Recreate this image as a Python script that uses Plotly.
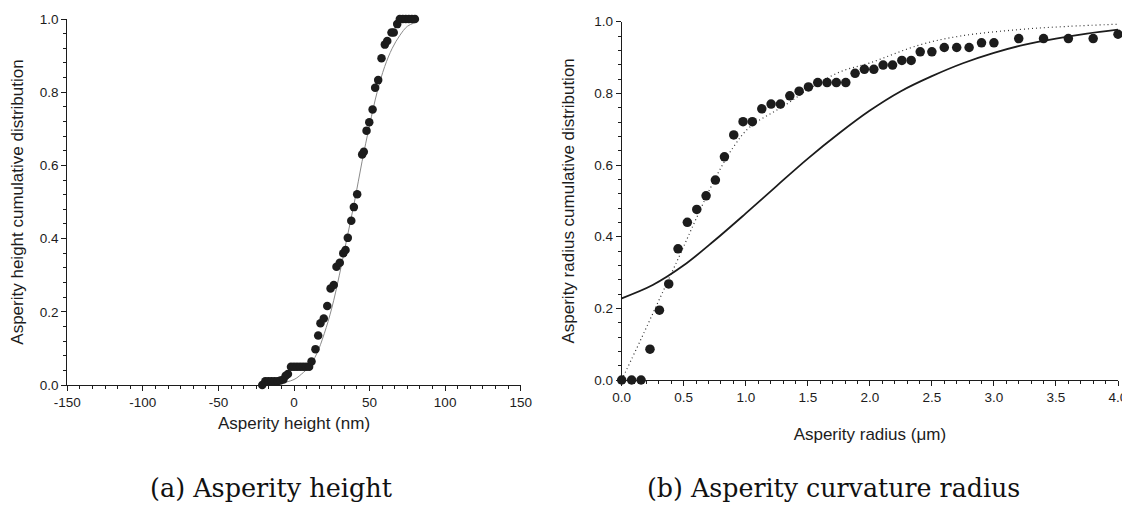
import plotly.graph_objects as go

# ---------------- data: (a) asperity height ----------------
height_x = [-21, -19, -17, -15, -13, -11, -9, -7, -5.5, -4, -2, 0, 2, 4, 6, 8, 10,
            11.6, 14.2, 16, 17.5, 19.7, 22, 24.2, 26.3, 28.1, 30.3, 32.6, 34.1, 35.6,
            37.9, 39.6, 41.8, 45.1, 46.2, 48, 49.8, 52, 53.7, 55.7, 57.9, 60.1, 61.7,
            64.5, 66, 68.3, 70, 72, 74, 76, 78, 80]
height_y = [0.0, 0.01, 0.01, 0.01, 0.01, 0.01, 0.012, 0.015, 0.025, 0.03, 0.05, 0.05,
            0.05, 0.05, 0.05, 0.05, 0.05, 0.064, 0.098, 0.135, 0.169, 0.182, 0.216,
            0.264, 0.273, 0.323, 0.334, 0.36, 0.369, 0.402, 0.449, 0.486, 0.521, 0.63,
            0.637, 0.695, 0.718, 0.753, 0.812, 0.833, 0.893, 0.93, 0.94, 0.963, 0.963,
            0.986, 1.0, 1.0, 1.0, 1.0, 1.0, 1.0]
height_fit_x = [-20, -10, 0, 5, 10, 15, 20, 25, 30, 35, 40, 45, 50, 55, 60, 65, 70, 75, 80]
height_fit_y = [0.0, 0.004, 0.015, 0.03, 0.05, 0.085, 0.14, 0.21, 0.30, 0.40, 0.50,
                0.61, 0.71, 0.80, 0.87, 0.92, 0.955, 0.98, 0.99]

# ---------------- data: (b) asperity curvature radius ----------------
radius_x = [0, 0.08, 0.156, 0.228, 0.304, 0.379, 0.454, 0.529, 0.605, 0.68, 0.755,
            0.828, 0.903, 0.978, 1.053, 1.129, 1.204, 1.279, 1.355, 1.43, 1.505, 1.58,
            1.655, 1.73, 1.806, 1.881, 1.956, 2.032, 2.107, 2.183, 2.258, 2.333, 2.406,
            2.5, 2.6, 2.7, 2.8, 2.9, 3.0, 3.2, 3.4, 3.6, 3.8, 4.0]
radius_y = [0, 0, 0, 0.086, 0.195, 0.268, 0.366, 0.44, 0.476, 0.514, 0.558, 0.623,
            0.684, 0.721, 0.721, 0.757, 0.77, 0.77, 0.793, 0.806, 0.818, 0.83, 0.83,
            0.83, 0.83, 0.856, 0.867, 0.867, 0.879, 0.879, 0.892, 0.892, 0.916, 0.916,
            0.928, 0.928, 0.928, 0.941, 0.941, 0.953, 0.953, 0.953, 0.953, 0.965]
radius_solid_x = [0, 0.25, 0.5, 0.75, 1.0, 1.25, 1.5, 1.75, 2.0, 2.25, 2.5, 2.75,
                  3.0, 3.25, 3.5, 3.75, 4.0]
radius_solid_y = [0.228, 0.265, 0.32, 0.39, 0.465, 0.542, 0.618, 0.688, 0.752, 0.806,
                  0.848, 0.884, 0.913, 0.936, 0.953, 0.967, 0.978]
radius_dot_x = [0, 0.15, 0.31, 0.47, 0.6, 0.75, 0.9, 1.03, 1.33, 1.5, 1.76, 2.0, 2.4,
                2.73, 3.2, 3.6, 4.0]
radius_dot_y = [0, 0.11, 0.23, 0.35, 0.45, 0.56, 0.65, 0.705, 0.77, 0.81, 0.86, 0.885,
                0.935, 0.96, 0.978, 0.987, 0.993]

height_ticks = [-150, -100, -50, 0, 50, 100, 150]
radius_ticks = [0.0, 0.5, 1.0, 1.5, 2.0, 2.5, 3.0, 3.5, 4.0]
cdf_ticks = [0.0, 0.2, 0.4, 0.6, 0.8, 1.0]

FONT = "Liberation Sans"
INK = "#1c1c1c"

fig = go.Figure()
fig.add_trace(go.Scatter(x=height_fit_x, y=height_fit_y, mode="lines",
                         line=dict(color="#8a8a8a", width=1, shape="spline"),
                         xaxis="x", yaxis="y", showlegend=False, cliponaxis=False))
fig.add_trace(go.Scatter(x=height_x, y=height_y, mode="markers",
                         marker=dict(color=INK, size=8.5), xaxis="x", yaxis="y",
                         showlegend=False, cliponaxis=False))
fig.add_trace(go.Scatter(x=radius_dot_x, y=radius_dot_y, mode="lines",
                         line=dict(color="#333333", width=1.2, dash="1px,3px",
                                   shape="spline"),
                         xaxis="x2", yaxis="y2", showlegend=False, cliponaxis=False))
fig.add_trace(go.Scatter(x=radius_solid_x, y=radius_solid_y, mode="lines",
                         line=dict(color=INK, width=1.8, shape="spline"),
                         xaxis="x2", yaxis="y2", showlegend=False, cliponaxis=False))
fig.add_trace(go.Scatter(x=radius_x, y=radius_y, mode="markers",
                         marker=dict(color=INK, size=9.5), xaxis="x2", yaxis="y2",
                         showlegend=False, cliponaxis=False))

W, H = 1130, 510
OFF = 8  # page body margin in the browser
def dx(px):
    return (px - OFF) / W
def dy(py):
    return (H - (py - OFF)) / H

axis_common = dict(showline=True, linecolor=INK, linewidth=1, ticks="outside",
                   ticklen=5, tickwidth=1, tickcolor=INK, showgrid=False,
                   zeroline=False, automargin=False,
                   tickfont=dict(family=FONT, size=13.5, color=INK),
                   title_font=dict(family=FONT, size=17, color=INK))

fig.update_layout(
    width=W, height=H, margin=dict(l=0, r=0, t=0, b=0, autoexpand=False),
    paper_bgcolor="white", plot_bgcolor="white",
    xaxis=dict(domain=[dx(67.3), dx(520.7)], range=[-150, 150], anchor="y",
               tickvals=height_ticks, ticktext=[str(v) for v in height_ticks],
               minor=dict(ticks="outside", ticklen=3, tick0=-150, dtick=50 / 6,
                          tickcolor=INK, showgrid=False),
               title=dict(text="Asperity height (nm)", standoff=7), **axis_common),
    yaxis=dict(domain=[dy(385), dy(19)], range=[0, 1], anchor="x",
               tickvals=cdf_ticks, ticktext=[f"{v:.1f}" for v in cdf_ticks],
               minor=dict(ticks="outside", ticklen=3, tick0=0, dtick=0.04,
                          tickcolor=INK, showgrid=False),
               title=dict(text="Asperity height cumulative distribution", standoff=13),
               **axis_common),
    xaxis2=dict(domain=[dx(621.7), dx(1118)], range=[0, 4], anchor="y2",
                tickvals=radius_ticks, ticktext=[f"{v:.1f}" for v in radius_ticks],
                minor=dict(ticks="outside", ticklen=3, tick0=0, dtick=0.1,
                           tickcolor=INK, showgrid=False),
                title=dict(text="Asperity radius (μm)", standoff=23), **axis_common),
    yaxis2=dict(domain=[dy(380), dy(21.7)], range=[0, 1], anchor="x2",
                tickvals=cdf_ticks, ticktext=[f"{v:.1f}" for v in cdf_ticks],
                minor=dict(ticks="outside", ticklen=3, tick0=0, dtick=0.04,
                           tickcolor=INK, showgrid=False),
                title=dict(text="Asperity radius cumulative distribution", standoff=15),
                **axis_common),
)

fig.add_annotation(text="(a) Asperity height", x=dx(271), y=dy(488), xref="paper",
                   yref="paper", showarrow=False, xanchor="center", yanchor="middle",
                   font=dict(family="DejaVu Serif", size=25.5, color="#111111"))
fig.add_annotation(text="(b) Asperity curvature radius", x=dx(833), y=dy(488),
                   xref="paper", yref="paper", showarrow=False, xanchor="center",
                   yanchor="middle",
                   font=dict(family="DejaVu Serif", size=25.3, color="#111111"))

fig.write_html("out.html")
